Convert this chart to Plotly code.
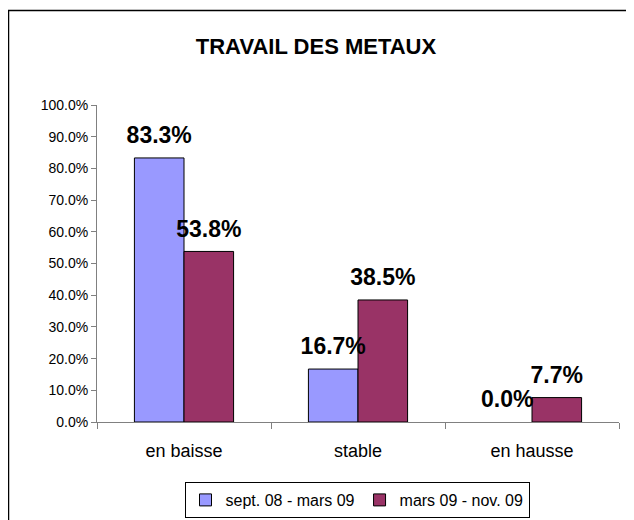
import plotly.graph_objects as go

categories = ["en baisse", "stable", "en hausse"]
series_names = ["sept. 08 - mars 09", "mars 09 - nov. 09"]
values_s1 = [83.3, 16.7, 0.0]
values_s2 = [53.8, 38.5, 7.7]
colors = ["#9999FF", "#993366"]

# page body adds an 8px offset; work in figure coordinates = reference - 8
OFF = 8
W, H = 626, 512
L, T = 97 - OFF, 105 - OFF
pw, ph = 522, 317
R, B = W - L - pw, H - T - ph
FONT = "Arial, Liberation Sans, sans-serif"
GAP = 0.43

fig = go.Figure()
for i, (name, vals, col) in enumerate(zip(series_names, [values_s1, values_s2], colors)):
    fig.add_trace(go.Bar(
        x=categories, y=vals, name=name, offsetgroup=str(i),
        marker=dict(color=col, line=dict(color="black", width=[1 if v > 0 else 0 for v in vals])),
    ))
for i, (name, vals) in enumerate(zip(series_names, [values_s1, values_s2])):
    fig.add_trace(go.Scatter(
        x=categories, y=vals, name=name, offsetgroup=str(i), showlegend=False,
        mode="markers+text", marker=dict(size=13, opacity=0),
        text=[f"<b>{v:.1f}%</b>" for v in vals], textposition="top center",
        textfont=dict(family=FONT, size=23, color="black"),
        cliponaxis=False, hoverinfo="skip",
    ))

def px_x(px):
    return (px - OFF - L) / pw

def px_y(py):
    return (T + ph - (py - OFF)) / ph

fig.update_layout(
    width=W, height=H,
    margin=dict(l=L, r=R, t=T, b=B, autoexpand=False),
    paper_bgcolor="white", plot_bgcolor="white",
    barmode="group", bargap=GAP, bargroupgap=0,
    scattermode="group", scattergap=GAP,
    font=dict(family=FONT, color="black"),
    title=dict(text="<b>TRAVAIL DES METAUX</b>", x=(316 - OFF) / W, xanchor="center",
               y=1 - (46 - OFF) / H, yanchor="middle", yref="container",
               font=dict(size=22, family=FONT, color="black")),
    showlegend=True,
    legend=dict(orientation="h", x=px_x(357), xanchor="center",
                y=px_y(482), yanchor="top",
                bordercolor="black", borderwidth=1,
                font=dict(size=16, family=FONT),
                itemwidth=30, traceorder="normal"),
    xaxis=dict(showline=True, linecolor="#808080", linewidth=1,
               ticks="outside", tickson="boundaries", ticklen=6, tickcolor="#808080",
               tickfont=dict(size=18, family=FONT), ticklabelstandoff=12,
               showgrid=False, automargin=False),
    yaxis=dict(range=[0, 100], dtick=10, tickformat=".1f", ticksuffix="%",
               showline=True, linecolor="#808080", linewidth=1,
               ticks="outside", ticklen=5, tickcolor="#808080",
               tickfont=dict(size=14, family=FONT),
               showgrid=False, zeroline=False, automargin=False),
    shapes=[dict(type="rect", xref="paper", yref="paper",
                 x0=px_x(8.5), x1=px_x(627.5),
                 y0=px_y(540), y1=px_y(10.5),
                 line=dict(color="black", width=1.5), fillcolor="rgba(0,0,0,0)",
                 layer="below")],
)

fig.write_html("out.html")
